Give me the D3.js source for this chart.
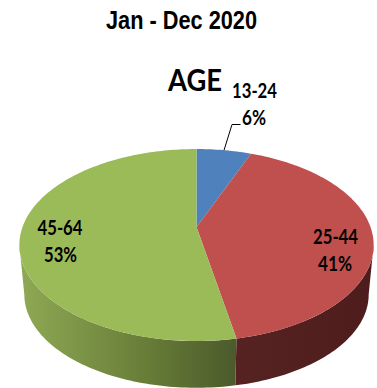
<!DOCTYPE html>
<html>
<head>
<meta charset="utf-8">
<style>
  html, body { margin: 0; padding: 0; background: #fff; }
  svg { display: block; }
  text { fill: #000; font-family: Lato, "Liberation Sans", sans-serif; font-weight: bold; }
  text.heading { font-family: "Liberation Sans", sans-serif; }
</style>
<script src="https://cdn.jsdelivr.net/npm/d3@7"></script>
</head>
<body>
<svg id="chart" width="377" height="388"></svg>
<script>
// Age breakdown of the year, in percent
const ageGroups = ["13-24", "25-44", "45-64"];
const agePercents = [6, 41, 53];
const topColors = ["#4f81bd", "#c0504d", "#9bbb59"];
const chartTitle = "Jan - Dec 2020";
const pieTitle = "AGE";

// Projection of the tilted disc
const discCenterX = 196.5;
const topFaceCenterY = 227;
const baseFaceCenterY = 277;
const baseScale = 0.972;
const radiusX = 174;
const radiusY = 92.6;
const perspective = 0.1875;

// Clockwise angle from 12 o'clock to screen position on the rim
function rimPoint(angle, centerY, scale) {
  const x = Math.sin(angle), y = -Math.cos(angle);
  const d = 1 - perspective * y;
  return [discCenterX + scale * radiusX * x / d, centerY + scale * radiusY * y / d];
}

const pie = d3.pie().sort(null).value(d => d);
const arcs = pie(agePercents);
const svg = d3.select("#chart");
const defs = svg.append("defs");

function sampleAngles(a0, a1) {
  const n = Math.max(2, Math.ceil(Math.abs(a1 - a0) / 0.02));
  return d3.range(n + 1).map(i => a0 + (a1 - a0) * i / n);
}
const path = d3.line();

// Side wall shading, darkening towards the front edge of each slice
const wallStops = [
  null,
  [["0%", "#4e1c1c"], ["100%", "#562322"]],
  [["0%", "#4b5a2b"], ["45%", "#6a8039"], ["100%", "#8fa955"]]
];

// The wall is only visible where the rim faces the viewer
const wallStart = Math.acos(-perspective);
const wallEnd = 2 * Math.PI - wallStart;

arcs.forEach((a, i) => {
  const from = Math.max(a.startAngle, wallStart);
  const to = Math.min(a.endAngle, wallEnd);
  if (from >= to || !wallStops[i]) return;
  const angles = sampleAngles(from, to);
  const upper = angles.map(t => rimPoint(t, topFaceCenterY, 1));
  const lower = angles.map(t => rimPoint(t, baseFaceCenterY, baseScale)).reverse();
  const xs = upper.concat(lower).map(p => p[0]);
  const grad = defs.append("linearGradient")
    .attr("id", "wall" + i)
    .attr("gradientUnits", "userSpaceOnUse")
    .attr("x1", d3.max(xs)).attr("x2", d3.min(xs))
    .attr("y1", 0).attr("y2", 0);
  wallStops[i].forEach(s => grad.append("stop").attr("offset", s[0]).attr("stop-color", s[1]));
  svg.append("path")
    .attr("d", path(upper.concat(lower)) + "Z")
    .attr("fill", `url(#wall${i})`);
});

// Top face of every slice
arcs.forEach((a, i) => {
  const rim = sampleAngles(a.startAngle, a.endAngle).map(t => rimPoint(t, topFaceCenterY, 1));
  svg.append("path")
    .attr("d", path([[discCenterX, topFaceCenterY]].concat(rim)) + "Z")
    .attr("fill", topColors[i]);
});

// Leader line for the small slice, from the middle of its rim
const leaderAnchor = rimPoint((arcs[0].startAngle + arcs[0].endAngle) / 2, topFaceCenterY, 1);
svg.append("path")
  .attr("d", path([leaderAnchor, [232, 124.5], [240.5, 124.5]]))
  .attr("fill", "none")
  .attr("stroke", "#000")
  .attr("stroke-width", 1);

// Text squeezed to a set width to get a condensed face
function fitted(x, y, size, width, str, cls) {
  svg.append("text").attr("class", cls || null)
    .attr("x", x).attr("y", y)
    .attr("text-anchor", "middle").attr("font-size", size)
    .attr("textLength", width).attr("lengthAdjust", "spacingAndGlyphs")
    .text(str);
}

// Titles
fitted(181.5, 28.5, 25, 151, chartTitle, "heading");
fitted(195, 90.5, 31, 54, pieTitle);

// Slice labels: group name above its percentage
const labelCenters = [[254.5, 98, 254, 125], [335.5, 244, 335, 271], [60, 235, 60.5, 262]];
const nameWidth = 45;
const percentWidths = [24, 34, 33];
arcs.forEach((a, i) => {
  const c = labelCenters[i];
  fitted(c[0], c[1], 20, nameWidth, ageGroups[i]);
  fitted(c[2], c[3], 20, percentWidths[i], agePercents[i] + "%");
});
</script>
</body>
</html>
